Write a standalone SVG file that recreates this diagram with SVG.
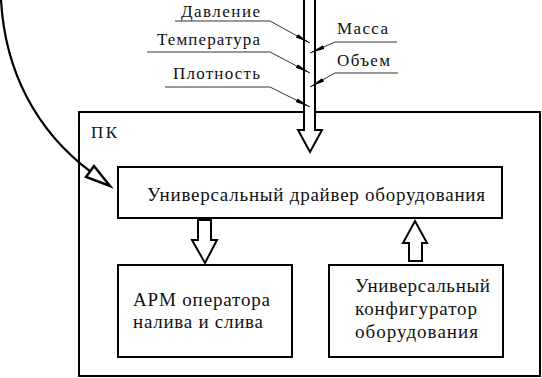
<svg xmlns="http://www.w3.org/2000/svg" width="542" height="378" viewBox="0 0 542 378">
<style>
.box{fill:#fff;stroke:#000;stroke-width:2}
.blk{fill:#fff;stroke:#000;stroke-width:2;stroke-linejoin:miter}
text{font-family:"Liberation Serif","DejaVu Serif",serif;fill:#111}
.s{font-size:17px}
.b{font-size:19px}
.lead{fill:none;stroke:#333;stroke-width:1}
</style>
<defs>
<marker id="sh" markerUnits="userSpaceOnUse" markerWidth="16" markerHeight="6" refX="15" refY="2.5" orient="auto">
<path d="M0,0.5 L15,2.5 L0,4.5 z" fill="#000"/>
</marker>
</defs>
<rect width="542" height="378" fill="#fff"/>
<g id="pk">
<rect class="box" x="79" y="112" width="461" height="264"/>
<text class="s" x="91" y="138" textLength="26">ПК</text>
</g>
<g id="labels">
<text class="s" x="181" y="17" textLength="79">Давление</text>
<text class="s" x="157" y="45" textLength="103">Температура</text>
<text class="s" x="173" y="79" textLength="87">Плотность</text>
<text class="s" x="337" y="34" textLength="51">Масса</text>
<text class="s" x="337" y="66" textLength="53">Объем</text>
</g>
<g id="driver">
<rect class="box" x="118" y="167" width="384" height="51"/>
<text class="b" x="147" y="201" textLength="338">Универсальный драйвер оборудования</text>
</g>
<g id="arm">
<rect class="box" x="118" y="265" width="174" height="92"/>
<text class="b" x="133" y="306" textLength="137">АРМ оператора</text>
<text class="b" x="133" y="328" textLength="130">налива и слива</text>
</g>
<g id="config">
<rect class="box" x="329" y="265" width="174" height="92"/>
<text class="b" x="355" y="292" textLength="135">Универсальный</text>
<text class="b" x="355" y="315" textLength="122">конфигуратор</text>
<text class="b" x="355" y="338" textLength="123">оборудования</text>
</g>
<g id="connectors">
<polygon class="blk" points="304,-3 315,-3 315,130 322,130 310,152 298,130 304,130"/>
<polygon class="blk" points="198,220 211,220 211,240 217,240 205,263 192,240 198,240"/>
<polygon class="blk" points="415,221 427,243 422,243 422,261 409,261 409,243 403,243"/>
<path class="lead" d="M175,21 H270 L310,43" marker-end="url(#sh)"/>
<path class="lead" d="M147,52 H270 L310,73" marker-end="url(#sh)"/>
<path class="lead" d="M165,87 H270 L310,107" marker-end="url(#sh)"/>
<path class="lead" d="M397,42 H335 L310,53" marker-end="url(#sh)"/>
<path class="lead" d="M398,73 H335 L310,87" marker-end="url(#sh)"/>
<path d="M1,0 C5,70 35,130 91,172" fill="none" stroke="#000" stroke-width="2.2"/>
<polygon points="110,186 94,166 86,177" fill="#fff" stroke="#000" stroke-width="2.5" stroke-linejoin="miter"/>
</g>
</svg>
